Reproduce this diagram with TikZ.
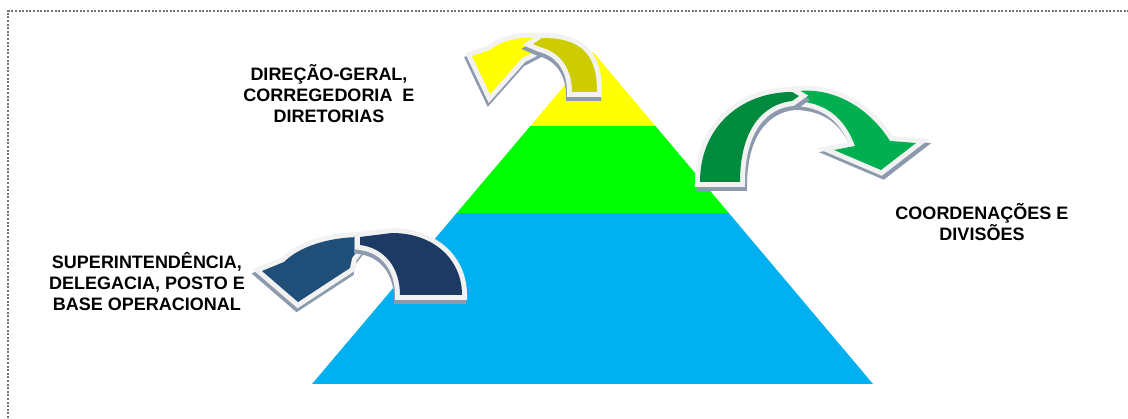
\documentclass[tikz,border=0pt]{standalone}
\usepackage{fontspec}
\setmainfont{Liberation Sans}

\definecolor{pyryellow}{HTML}{FFFF00}
\definecolor{pyrgreen}{HTML}{00FF00}
\definecolor{pyrblue}{HTML}{00B0F0}
\definecolor{yellowtail}{HTML}{CCCC00}
\definecolor{greenhead}{HTML}{00B050}
\definecolor{greentail}{HTML}{008A3E}
\definecolor{bluehead}{HTML}{1F4E79}
\definecolor{bluetail}{HTML}{1C3A64}
\definecolor{rimgray}{HTML}{F2F2F2}
\definecolor{shadegray}{HTML}{8C9AAE}

\tikzset{
  arrowrim/.style={draw=rimgray,line width=10pt,line join=miter,miter limit=6},
  arrowshade/.style={fill=shadegray,draw=shadegray,line width=10pt,line join=miter,miter limit=6},
  borderline/.style={draw=black!55,line width=1.2pt,dash pattern=on 2pt off 1.6pt},
  levellabel/.style={font=\bfseries\fontsize{18}{21}\selectfont,align=center,inner sep=0pt}
}

% one half of a bent arrow: shadow offset, colour, path
\newcommand{\arrowpart}[3]{%
  \path[arrowshade,shift={#1}] #3;
  \path[arrowrim] #3;
  \fill[#2] #3;}

\begin{document}
\begin{tikzpicture}[x=1pt,y=1pt]
\useasboundingbox (0,0) rectangle (1128,418);

	\draw[borderline] (8,0) -- (8,407) -- (1128,407);

	% pyramid
	\fill[pyrblue] (312,34) -- (873,34) -- (728.8,205) -- (456.7,205) -- cycle;
	\fill[pyrgreen] (456.7,205) -- (728.8,205) -- (655.4,292) -- (530.4,292) -- cycle;
	\fill[pyryellow] (530.4,292) -- (655.4,292) -- (593,366) -- cycle;

	% top arrow
	\arrowpart{(-1,-4)}{pyryellow}{(542,380) .. controls (522,382) and (502,378) .. (490,368) -- (472,362) -- (490,324) -- (522,360) -- (530,364) -- (545,372) -- cycle}
	\arrowpart{(-1,-4)}{yellowtail}{(597,326) .. controls (597,365) and (580,380) .. (542,380) -- (533,374) -- (540,371) .. controls (560,366) and (572,350) .. (572,326) -- cycle}

	% right arrow
	\arrowpart{(2,-4)}{greenhead}{(792,326) .. controls (830,333) and (868,312) .. (890,277) -- (916,275) -- (881,248) -- (834,268) -- (855,272) .. controls (845,300) and (825,317) .. (792,317) -- cycle}
	\arrowpart{(2,-4)}{greentail}{(700,236) .. controls (700,292) and (742,326) .. (792,326) -- (799,322) -- (792,317) .. controls (764,314) and (740,290) .. (740,236) -- cycle}

	% left arrow
	\arrowpart{(-1,-4)}{bluehead}{(362,181) .. controls (330,181) and (300,172) .. (284,156) -- (262,147) -- (298,116) -- (350,150) -- (352,160) -- (362,173) -- cycle}
	\arrowpart{(-1,-4)}{bluetail}{(462,123) .. controls (462,160) and (432,185) .. (392,185) -- (360,181) -- (360,173) .. controls (385,170) and (400,150) .. (400,123) -- cycle}

	\node[levellabel] (dirlabel) at (329,324) {DIREÇÃO-GERAL,\\CORREGEDORIA\ \ E\\DIRETORIAS};
	\node[levellabel] (coordlabel) at (982,195.5) {COORDENAÇÕES E\\DIVISÕES};
	\node[levellabel] (superlabel) at (147,136) {SUPERINTENDÊNCIA,\\DELEGACIA, POSTO E\\BASE OPERACIONAL};

\end{tikzpicture}
\end{document}
